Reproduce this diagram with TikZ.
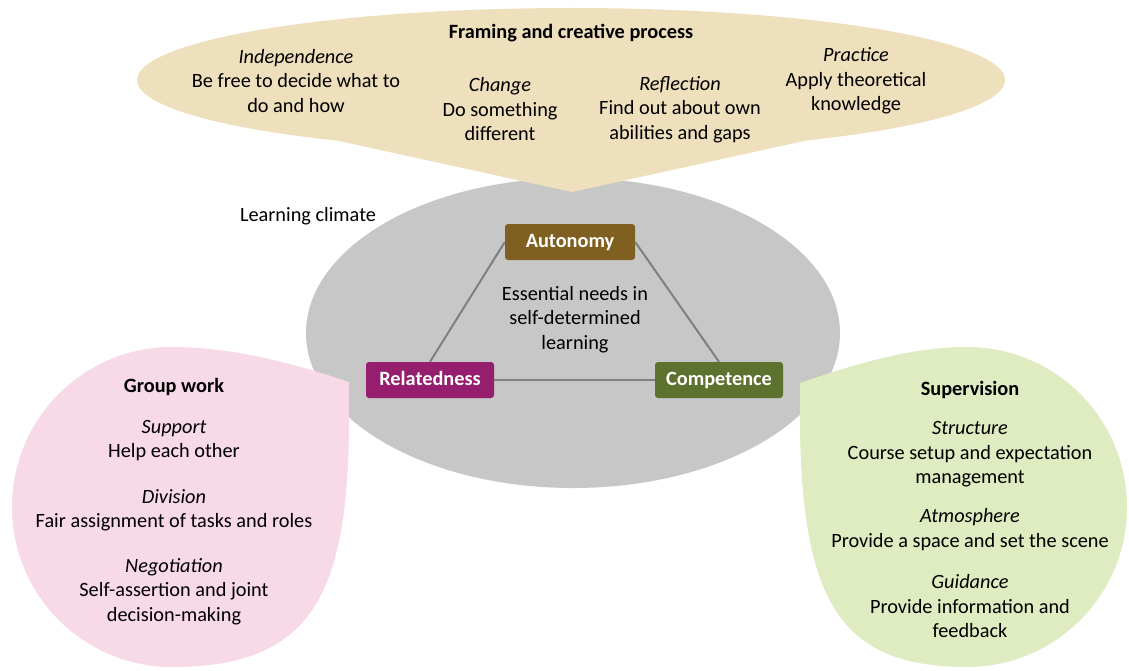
\documentclass[tikz,border=0pt]{standalone}
\usepackage{fontspec}
\setmainfont{Carlito}
\usetikzlibrary{positioning}

\begin{document}
\begin{tikzpicture}[
    x=1pt, y=-1pt,
    font=\fontsize{20.3}{24.5}\selectfont,
    needbox/.style={rounded corners=3pt, minimum width=130pt, minimum height=36pt, inner sep=0pt, text height=13pt, text depth=3pt, text=white, font=\bfseries\fontsize{20.3}{24.5}\selectfont},
    headfont/.style={font=\bfseries\fontsize{20.3}{24.5}\selectfont},
    blocktext/.style={align=center, inner sep=0pt},
    link/.style={draw=black!50, line width=2pt},
]

% Pastel fills for the three surrounding bubbles, dark fills for the needs
\definecolor{mTan}{RGB}{239,224,189}
\definecolor{mPink}{RGB}{247,217,231}
\definecolor{mLime}{RGB}{223,235,192}
\definecolor{mGray}{RGB}{199,199,199}
\definecolor{mBrown}{RGB}{127,96,32}
\definecolor{mPlum}{RGB}{150,30,110}
\definecolor{mOlive}{RGB}{94,114,48}

\useasboundingbox (0,0) rectangle (1129,670);

% ===== CENTRE: learning climate =====
\fill[mGray] (573,333) ellipse[x radius=267, y radius=155];
\node[blocktext] (climate) at (308,216.5) {Learning climate};

% ===== TOP: framing bubble, pointing down into the climate =====
\fill[mTan] (572,192) -- ([shift={(57.2:434 and 72)}]571,80)
    arc[start angle=57.2, end angle=-237.5, x radius=434, y radius=72] -- cycle;

\node[headfont] (frame) at (571,33.5) {Framing and creative process};
\node[blocktext] (indep) at (296,81) {\textit{Independence}\\Be free to decide what to\\do and how};
\node[blocktext] (change) at (500,109.5) {\textit{Change}\\Do something\\different};
\node[blocktext] (reflect) at (680,109.5) {\textit{Reflection}\\Find out about own\\abilities and gaps};
\node[blocktext] (practice) at (856,81) {\textit{Practice}\\Apply theoretical\\knowledge};

% ===== LEFT: group work teardrop, tip to the upper right =====
\fill[mPink] (349,382) .. controls (290,362) and (230,347) .. (172,347)
    arc[start angle=-90, end angle=-270, radius=160]
    .. controls (325,667) and (352,580) .. cycle;

\node[headfont] (group) at (174,386.5) {Group work};
\node[blocktext] (support) at (174,440.5) {\textit{Support}\\Help each other};
\node[blocktext] (division) at (174,510.5) {\textit{Division}\\Fair assignment of tasks and roles};
\node[blocktext] (negot) at (174,591.5) {\textit{Negotiation}\\Self-assertion and joint\\decision-making};

% ===== RIGHT: supervision teardrop, tip to the upper left =====
\fill[mLime] (800,383) .. controls (860,362) and (915,347) .. (967,347)
    arc[start angle=-90, end angle=90, radius=160]
    .. controls (830,667) and (797,590) .. cycle;

\node[headfont] (superv) at (970,389.5) {Supervision};
\node[blocktext] (struct) at (970,454.5) {\textit{Structure}\\Course setup and expectation\\management};
\node[blocktext] (atmos) at (970,529.5) {\textit{Atmosphere}\\Provide a space and set the scene};
\node[blocktext] (guide) at (970,606.5) {\textit{Guidance}\\Provide information and\\feedback};

% ===== Triangle of the three needs =====
\node[needbox, fill=mBrown] (aut) at (570,242) {Autonomy};
\node[needbox, fill=mPlum, minimum width=128pt] (rel) at (430,380) {Relatedness};
\node[needbox, fill=mOlive, minimum width=128pt] (com) at (719,380) {Competence};

\draw[link] (aut.west) -- (rel.north);
\draw[link] (aut.east) -- (com.north);
\draw[link] (rel.east) -- (com.west);

\node[blocktext] (needs) at (575,319.5) {Essential needs in\\self-determined\\learning};

\end{tikzpicture}
\end{document}
